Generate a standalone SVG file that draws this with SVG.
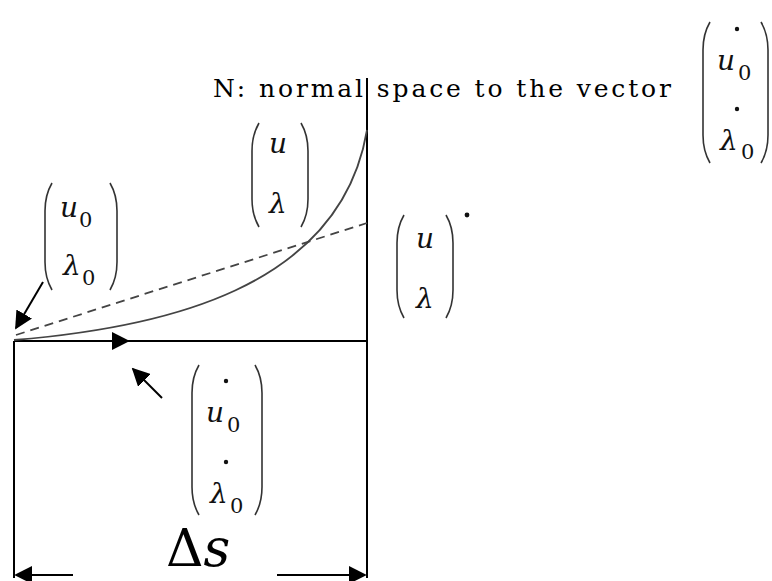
<svg xmlns="http://www.w3.org/2000/svg" width="772" height="581" viewBox="0 0 772 581">
<defs>
<style>
.ln{stroke:#000;stroke-width:2;fill:none}
.par{stroke:#333;stroke-width:1.6;fill:none}
.crv{stroke:#444;stroke-width:1.8;fill:none}
.dash{stroke:#444;stroke-width:1.8;fill:none;stroke-dasharray:9 6}
.t{font-family:'DejaVu Serif','Liberation Serif',serif;fill:#000}
.m{font-family:'DejaVu Serif','Liberation Serif',serif;font-style:italic;font-size:28px;fill:#111}
.s{font-family:'DejaVu Serif','Liberation Serif',serif;font-size:21px;fill:#111}
</style>
<marker id="ahb" viewBox="0 0 10 10" refX="9" refY="5" markerWidth="18" markerHeight="18" markerUnits="userSpaceOnUse" orient="auto">
<path d="M0,0 L10,5 L0,10 Z" fill="#000"/>
</marker>
</defs>
<rect width="772" height="581" fill="#fff"/>

<g id="connectors">
<line class="ln" x1="367" y1="78" x2="367" y2="578"/>
<line class="ln" x1="14" y1="341" x2="14" y2="578"/>
<line class="ln" x1="14" y1="341" x2="367" y2="341"/>
<line class="ln" x1="14" y1="341" x2="128" y2="341" marker-end="url(#ahb)"/>
<path class="crv" d="M14,340 C160,328 340,290 367,130"/>
<line class="dash" x1="16" y1="335" x2="367" y2="223"/>
<line class="ln" stroke-width="1.6" x1="43" y1="282" x2="16" y2="328" marker-end="url(#ahb)"/>
<line class="ln" stroke-width="1.6" x1="162" y1="398" x2="133" y2="369" marker-end="url(#ahb)"/>
<line class="ln" x1="73" y1="575" x2="16" y2="575" marker-end="url(#ahb)"/>
<line class="ln" x1="277" y1="575" x2="365" y2="575" marker-end="url(#ahb)"/>
</g>

<g id="title">
<text class="t" x="213" y="97" font-size="25" textLength="458" lengthAdjust="spacing">N: normal space to the vector</text>
</g>

<g id="vec-tangent-top">
<path class="par" d="M710,22 Q703,34 703,50 L703,135 Q703,151 710,163"/>
<path class="par" d="M761,22 Q768,34 768,50 L768,135 Q768,151 761,163"/>
<circle cx="737" cy="29" r="2.2" fill="#111"/>
<text class="m" x="717" y="70">u</text>
<text class="s" x="738" y="80">0</text>
<circle cx="737" cy="109" r="2.2" fill="#111"/>
<text class="m" x="720" y="150">λ</text>
<text class="s" x="741" y="159">0</text>
</g>

<g id="vec-start">
<path class="par" d="M52,183 Q45,195 45,211 L45,262 Q45,278 52,290"/>
<path class="par" d="M110,183 Q117,195 117,211 L117,262 Q117,278 110,290"/>
<text class="m" x="60" y="217">u</text>
<text class="s" x="79" y="227">0</text>
<text class="m" x="63" y="275">λ</text>
<text class="s" x="82" y="285">0</text>
</g>

<g id="vec-u">
<path class="par" d="M259,123 Q252,135 252,151 L252,199 Q252,215 259,227"/>
<path class="par" d="M301,123 Q308,135 308,151 L308,199 Q308,215 301,227"/>
<text class="m" x="269" y="153">u</text>
<text class="m" x="269" y="213">λ</text>
</g>

<g id="vec-u-star">
<path class="par" d="M404,215 Q397,227 397,243 L397,290 Q397,306 404,318"/>
<path class="par" d="M446,215 Q453,227 453,243 L453,290 Q453,306 446,318"/>
<circle cx="467" cy="215" r="2.4" fill="#111"/>
<text class="m" x="416" y="248">u</text>
<text class="m" x="416" y="308">λ</text>
</g>

<g id="vec-tangent">
<path class="par" d="M199,365 Q192,377 192,393 L192,487 Q192,503 199,515"/>
<path class="par" d="M255,365 Q262,377 262,393 L262,487 Q262,503 255,515"/>
<circle cx="226" cy="381" r="2.2" fill="#111"/>
<text class="m" x="206" y="422">u</text>
<text class="s" x="227" y="432">0</text>
<circle cx="226" cy="462" r="2.2" fill="#111"/>
<text class="m" x="210" y="503">λ</text>
<text class="s" x="230" y="513">0</text>
</g>

<g id="delta-s">
<text class="t" x="166" y="566" font-size="52">Δ<tspan font-style="italic">s</tspan></text>
</g>
</svg>
